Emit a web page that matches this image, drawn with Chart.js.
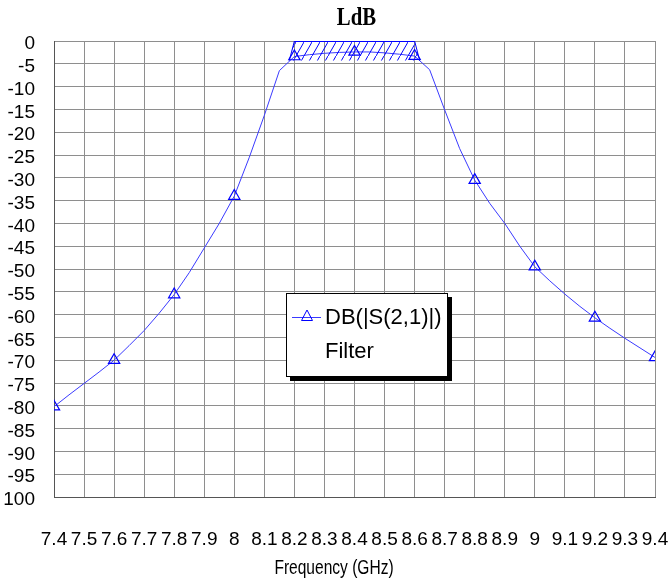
<!DOCTYPE html>
<html>
<head>
<meta charset="utf-8">
<title>LdB</title>
<script src="https://cdn.jsdelivr.net/npm/chart.js@4.4.1/dist/chart.umd.min.js"></script>
<style>
    body { margin: 0; background: #ffffff; }
    #chart-wrap { width: 669px; height: 582px; }
</style>
</head>
<body>
<div id="chart-wrap">
    <canvas id="ldb-chart" width="669" height="582"></canvas>
</div>
<script>
// ===== DATA =====
const freq_ghz = [
    7.40, 7.45, 7.50, 7.55, 7.60, 7.65, 7.70, 7.75, 7.80, 7.85,
    7.90, 7.95, 8.00, 8.05, 8.10, 8.15, 8.20, 8.25, 8.30, 8.35,
    8.40, 8.45, 8.50, 8.55, 8.60, 8.65, 8.70, 8.75, 8.80, 8.85,
    8.90, 8.95, 9.00, 9.05, 9.10, 9.15, 9.20, 9.25, 9.30, 9.35, 9.40
];
const s21_db = [
    -80.2, -77.6, -75.1, -72.6, -70.0, -66.8, -63.5, -59.7, -55.6, -50.8,
    -45.4, -40.0, -34.0, -25.5, -16.3, -6.5, -3.4, -3.0, -2.7, -2.5,
    -2.4, -2.4, -2.6, -2.9, -3.3, -6.3, -15.1, -23.6, -30.5, -35.6,
    -40.0, -45.0, -49.5, -52.6, -55.5, -58.2, -60.7, -63.0, -65.2, -67.3, -69.4
];

// filter goal box (passband spec)
const goal_freq = [8.2, 8.6];
const goal_top_db = 0;
const goal_bottom_db = -4.3;

const x_tick_labels = [
    '7.4', '7.5', '7.6', '7.7', '7.8', '7.9', '8', '8.1', '8.2', '8.3', '8.4',
    '8.5', '8.6', '8.7', '8.8', '8.9', '9', '9.1', '9.2', '9.3', '9.4'
];
const y_tick_labels = [
    '0', '-5', '-10', '-15', '-20', '-25', '-30', '-35', '-40', '-45', '-50',
    '-55', '-60', '-65', '-70', '-75', '-80', '-85', '-90', '-95', '100'
];

const chart_title = 'LdB';
const x_axis_title = 'Frequency (GHz)';
const legend_lines = ['DB(|S(2,1)|)', 'Filter'];

// ===== STYLE =====
const TRACE_COLOR = '#3a3aff';
const MARKER_COLOR = '#0000ff';
const GRID_COLOR = '#8e8e8e';
const TICK_FONT = "'Liberation Sans', Arial, sans-serif";

// hatch pattern for the goal box
function make_hatch() {
    const c = document.createElement('canvas');
    c.width = 8;
    c.height = 14;
    const g = c.getContext('2d');
    g.strokeStyle = MARKER_COLOR;
    g.lineWidth = 1;
    g.beginPath();
    g.moveTo(0, 14);
    g.lineTo(8, 0);
    g.stroke();
    return g.createPattern(c, 'repeat');
}

// ===== CUSTOM TEXT (title, axis title, legend box) =====
const overlay_plugin = {
    id: 'overlay',
    afterDraw(chart) {
        const ctx = chart.ctx;
        const area = chart.chartArea;
        ctx.save();

        // title centred over plot, narrow like the original
        ctx.fillStyle = '#000000';
        ctx.font = "bold 26px 'Liberation Serif', 'Times New Roman', serif";
        ctx.textAlign = 'center';
        ctx.textBaseline = 'middle';
        ctx.save();
        ctx.translate((area.left + area.right) / 2 + 2, 18);
        ctx.scale(0.8, 1);
        ctx.fillText(chart_title, 0, 0);
        ctx.restore();

        // x axis title (condensed)
        ctx.save();
        ctx.font = "21px " + TICK_FONT;
        ctx.translate(334, 568);
        ctx.scale(0.74, 1);
        ctx.fillText(x_axis_title, 0, 0);
        ctx.restore();

        // legend box with drop shadow
        const bx = 286, by = 293, bw = 162, bh = 84;
        ctx.fillStyle = '#000000';
        ctx.fillRect(bx + 4, by + 4, bw, bh);
        ctx.fillStyle = '#ffffff';
        ctx.fillRect(bx, by, bw, bh);
        ctx.strokeStyle = '#000000';
        ctx.lineWidth = 1;
        ctx.strokeRect(bx + 0.5, by + 0.5, bw - 1, bh - 1);

        // legend symbol
        ctx.strokeStyle = TRACE_COLOR;
        ctx.beginPath();
        ctx.moveTo(292, 317.5);
        ctx.lineTo(321, 317.5);
        ctx.stroke();
        ctx.strokeStyle = MARKER_COLOR;
        ctx.beginPath();
        ctx.moveTo(307, 310);
        ctx.lineTo(312.5, 320.5);
        ctx.lineTo(301.5, 320.5);
        ctx.closePath();
        ctx.stroke();

        ctx.fillStyle = '#000000';
        ctx.font = "22px 'Liberation Sans', Arial, sans-serif";
        ctx.textAlign = 'left';
        ctx.fillText(legend_lines[0], 325, 318);
        ctx.fillText(legend_lines[1], 325, 352);
        ctx.restore();
    }
};

// ===== CHART =====
function init_ldb_chart() {
    const ctx = document.getElementById('ldb-chart').getContext('2d');
    const hatch = make_hatch();

    const trace_points = freq_ghz.map((f, i) => ({ x: f, y: s21_db[i] }));
    const goal_points = [
        { x: goal_freq[0] - 0.017, y: goal_bottom_db },
        { x: goal_freq[0], y: goal_top_db },
        { x: goal_freq[1], y: goal_top_db },
        { x: goal_freq[1] + 0.017, y: goal_bottom_db }
    ];

    new Chart(ctx, {
        type: 'line',
        data: {
            datasets: [{
                label: legend_lines[1],
                data: goal_points,
                borderColor: MARKER_COLOR,
                borderWidth: 1,
                segment: {
                    borderWidth: c => (c.p0DataIndex === 1 ? 2 : 1)
                },
                backgroundColor: hatch,
                fill: { value: goal_bottom_db },
                pointRadius: 0,
                tension: 0
            }, {
                label: legend_lines[0],
                data: trace_points,
                borderColor: TRACE_COLOR,
                borderWidth: 1,
                fill: false,
                tension: 0,
                pointStyle: 'triangle',
                pointRadius: c => (c.dataIndex % 4 === 0 ? 6.5 : 0),
                pointBorderColor: MARKER_COLOR,
                pointBackgroundColor: 'rgba(0,0,0,0)',
                pointBorderWidth: 1.2
            }]
        },
        options: {
            responsive: false,
            animation: false,
            layout: {
                padding: { top: 41, right: 14, left: 0, bottom: 0 }
            },
            scales: {
                x: {
                    type: 'linear',
                    min: 7.4,
                    max: 9.4,
                    border: { color: '#555555', width: 1 },
                    grid: { color: GRID_COLOR, drawTicks: false },
                    ticks: {
                        stepSize: 0.1,
                        autoSkip: false,
                        maxRotation: 0,
                        padding: 31,
                        color: '#000000',
                        font: { family: TICK_FONT, size: 19 },
                        callback: v => x_tick_labels[Math.round((v - 7.4) / 0.1)]
                    },
                    afterFit: s => {
                        s.height = 85;
                        s.paddingLeft = 0;
                        s.paddingRight = 0;
                    }
                },
                y: {
                    min: -100,
                    max: 0,
                    border: { color: '#555555', width: 1 },
                    grid: { color: GRID_COLOR, drawTicks: false },
                    ticks: {
                        stepSize: 5,
                        autoSkip: false,
                        padding: 19,
                        labelOffset: 3,
                        color: '#000000',
                        font: { family: TICK_FONT, size: 19 },
                        callback: v => y_tick_labels[Math.round(-v / 5)]
                    },
                    afterFit: s => {
                        s.width = 54;
                        s.paddingTop = 0;
                        s.paddingBottom = 0;
                    }
                }
            },
            plugins: {
                legend: { display: false },
                title: { display: false },
                tooltip: { enabled: false }
            }
        },
        plugins: [overlay_plugin]
    });
}

window.addEventListener('load', () => {
    init_ldb_chart();
});
</script>
</body>
</html>
